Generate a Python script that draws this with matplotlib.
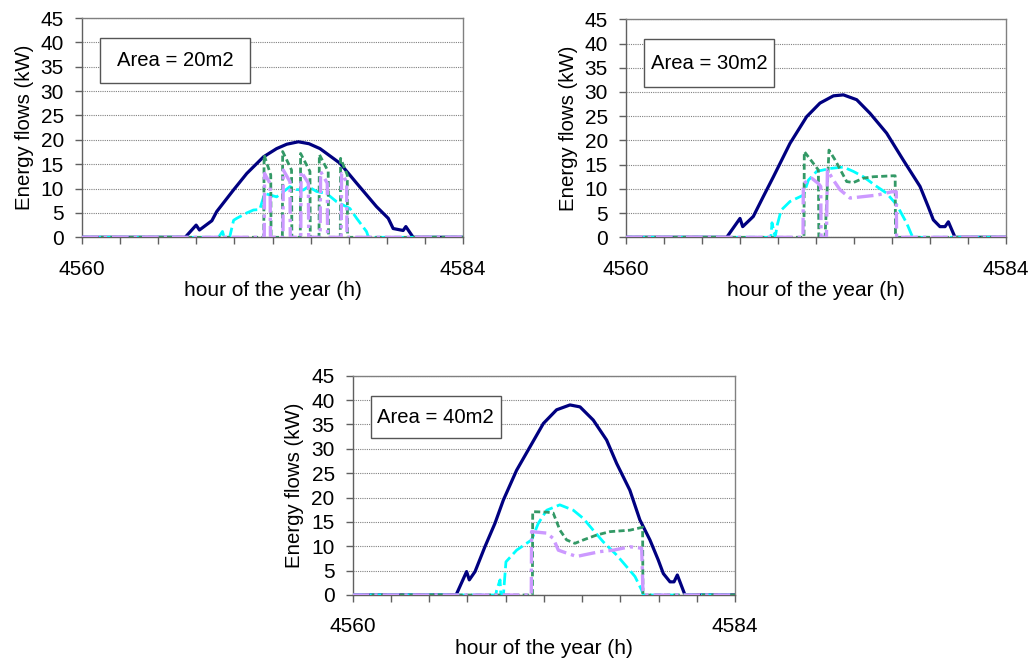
import matplotlib
matplotlib.use("Agg")
import numpy as np
import matplotlib.pyplot as plt
from matplotlib.patches import Rectangle

plt.rcParams['font.family'] = ['Liberation Sans', 'DejaVu Sans']

# ---------------- data ----------------
START_HOUR = 4560
END_HOUR = 4584
X_TICK_LABELS = ['4560', '', '', '', '', '', '', '', '', '', '4584']
Y_TICKS = [0, 5, 10, 15, 20, 25, 30, 35, 40, 45]
AREA_LABELS = ['Area = 20m2', 'Area = 30m2', 'Area = 40m2']
Y_LABEL = 'Energy flows (kW)'
X_LABEL = 'hour of the year (h)'

# Panel 1 (20 m2) -- hours after START_HOUR, values in kW
p1_navy_t = [0, 6.5, 7.19, 7.4, 8.18, 8.49, 9.54, 10.38, 11.43, 12.26, 12.9, 13.63, 14.3, 14.99, 16.25, 17.3, 18.55, 19.29, 19.6, 20.23, 20.4, 20.86, 24]
p1_navy_v = [0, 0, 2.5, 1.5, 3.4, 5.3, 9.7, 13.1, 16.5, 18.2, 19.1, 19.6, 19.2, 18.2, 15.2, 11.1, 6.3, 3.9, 1.8, 1.4, 2.2, 0, 0]
p1_cyan_t = [0, 8.6, 8.85, 8.95, 9.3, 9.55, 9.75, 10.38, 10.8, 11.2, 11.5, 12.26, 13.1, 13.5, 13.94, 14.26, 14.78, 15.4, 16.04, 16.88, 17.3, 17.92, 18.05, 24]
p1_cyan_v = [0, 0, 1.2, 0, 0, 3.5, 3.9, 5.0, 5.6, 5.7, 9.0, 8.3, 10.4, 9.8, 9.7, 10.4, 9.4, 9.0, 7.3, 5.9, 3.9, 1.2, 0, 0]
p1_green_t = [0, 11.45, 11.47, 11.89, 11.91, 12.62, 12.64, 13.2, 13.22, 13.75, 13.77, 14.36, 14.38, 14.93, 14.95, 15.51, 15.53, 16.27, 16.29, 16.71, 16.73, 24]
p1_green_v = [0, 0, 16.9, 12.8, 0, 0, 17.6, 13.8, 0, 0, 17.2, 13.5, 0, 0, 17.0, 13.5, 0, 0, 16.2, 12.8, 0, 0]
p1_lav_t = [0, 11.48, 11.5, 11.85, 11.87, 12.66, 12.68, 13.1, 13.12, 13.78, 13.8, 14.26, 14.28, 15.0, 15.03, 15.45, 15.47, 16.33, 16.35, 16.67, 16.69, 24]
p1_lav_v = [0, 0, 13.1, 11.0, 0, 0, 13.8, 11.4, 0, 0, 13.5, 11.1, 0, 0, 13.5, 11.1, 0, 0, 13.1, 11.4, 0, 0]

# Panel 2 (30 m2)
p2_navy_t = [0, 6.36, 7.2, 7.37, 8.04, 8.67, 9.31, 10.36, 11.41, 12.25, 13.1, 13.73, 14.57, 15.41, 16.46, 17.5, 18.57, 19.09, 19.41, 19.83, 20.15, 20.36, 20.78, 24]
p2_navy_v = [0, 0, 3.9, 2.2, 4.3, 8.4, 12.5, 19.4, 24.9, 27.7, 29.2, 29.4, 28.4, 25.6, 21.5, 16.0, 10.5, 6.3, 3.6, 2.2, 2.2, 3.2, 0, 0]
p2_cyan_t = [0, 9.15, 9.22, 9.42, 9.55, 9.8, 10.36, 11.2, 11.52, 12.04, 12.88, 13.73, 14.36, 14.99, 15.83, 16.46, 17.1, 17.73, 18.04, 18.15, 24]
p2_cyan_v = [0, 0, 3.0, 0, 2.5, 5.6, 7.4, 8.7, 11.8, 13.6, 14.2, 14.5, 13.6, 12.5, 10.5, 9.1, 6.7, 2.9, 0.5, 0, 0]
p2_green_t = [0, 11.24, 11.26, 12.15, 12.18, 12.57, 12.82, 13.2, 13.94, 14.36, 14.99, 15.62, 16.88, 17.0, 17.02, 24]
p2_green_v = [0, 0, 17.7, 13.9, 0, 0, 18.0, 16.0, 11.5, 11.3, 12.2, 12.5, 12.7, 12.7, 0, 0]
p2_lav_t = [0, 11.18, 11.2, 11.73, 12.15, 12.3, 12.32, 12.66, 12.72, 13.1, 13.52, 14.15, 14.99, 15.83, 16.78, 17.07, 17.09, 24]
p2_lav_v = [0, 0, 11.1, 12.2, 11.1, 10.5, 0, 0, 13.9, 11.8, 9.8, 8.1, 8.4, 8.7, 9.4, 9.4, 0, 0]

# Panel 3 (40 m2)
p3_navy_t = [0, 6.49, 7.15, 7.32, 7.68, 8.3, 8.93, 9.46, 10.29, 11.13, 11.97, 12.8, 13.64, 14.27, 15.1, 15.94, 16.57, 17.4, 18.03, 18.66, 19.18, 19.5, 19.92, 20.17, 20.38, 20.86, 24]
p3_navy_v = [0, 0, 4.8, 3.1, 4.8, 9.9, 14.7, 19.5, 25.6, 30.4, 35.2, 38.0, 39.0, 38.6, 35.9, 31.8, 27.0, 21.5, 15.4, 11.3, 7.2, 4.4, 2.7, 2.7, 4.1, 0, 0]
p3_cyan_t = [0, 8.98, 9.04, 9.25, 9.3, 9.46, 9.62, 10.29, 11.23, 11.65, 12.18, 13.0, 13.85, 14.48, 15.1, 15.73, 16.57, 17.2, 17.72, 18.14, 18.25, 24]
p3_cyan_v = [0, 0, 1.0, 3.1, 0, 0, 6.8, 9.2, 11.3, 14.7, 17.4, 18.5, 17.4, 15.7, 13.3, 10.9, 8.2, 5.8, 3.8, 1.0, 0, 0]
p3_green_t = [0, 11.28, 11.3, 12.2, 12.59, 13.01, 13.43, 13.95, 14.48, 15.31, 16.15, 17.4, 18.2, 18.22, 24]
p3_green_v = [0, 0, 17.1, 17.0, 16.8, 13.3, 11.3, 10.6, 11.3, 12.3, 13.0, 13.3, 13.9, 0, 0]
p3_lav_t = [0, 11.21, 11.23, 12.18, 12.59, 12.91, 13.43, 14.06, 14.48, 15.52, 16.36, 17.4, 18.14, 18.22, 18.3, 24]
p3_lav_v = [0, 0, 13.0, 12.7, 11.6, 9.2, 8.6, 7.9, 8.2, 8.9, 9.2, 9.9, 9.6, 1.0, 0, 0]

# ---------------- styles ----------------
NAVY = '#000080'
CYAN = '#00FFFF'
GREEN = '#339966'
LAV = '#CC99FF'

FIG_W, FIG_H = 1033, 659
fig = plt.figure(figsize=(FIG_W / 100, FIG_H / 100), dpi=100)

# axes rects in pixels (left, top, right, bottom)
rects_px = [(82, 18, 463, 237.3), (626, 19.3, 1006, 237.3), (352.7, 375.7, 735, 595)]
boxes = [(0.047, 0.703, 0.394, 0.204), (0.047, 0.689, 0.342, 0.221), (0.048, 0.716, 0.339, 0.191)]

panels = [
    (p1_navy_t, p1_navy_v, p1_cyan_t, p1_cyan_v, p1_green_t, p1_green_v, p1_lav_t, p1_lav_v),
    (p2_navy_t, p2_navy_v, p2_cyan_t, p2_cyan_v, p2_green_t, p2_green_v, p2_lav_t, p2_lav_v),
    (p3_navy_t, p3_navy_v, p3_cyan_t, p3_cyan_v, p3_green_t, p3_green_v, p3_lav_t, p3_lav_v),
]

FS = 15
xticks = np.linspace(START_HOUR, END_HOUR, len(X_TICK_LABELS))

for (l, t, r, b), box, label, data in zip(rects_px, boxes, AREA_LABELS, panels):
    ax = fig.add_axes([l / FIG_W, 1 - b / FIG_H, (r - l) / FIG_W, (b - t) / FIG_H])
    nt, nv, ct, cv, gt, gv, lt, lv = data
    ax.plot(START_HOUR + np.array(nt), nv, color=NAVY, lw=2.3, solid_joinstyle='round', zorder=3)
    ax.plot(START_HOUR + np.array(ct), cv, color=CYAN, lw=2.0, dashes=(4.5, 1.6), zorder=4)
    ax.plot(START_HOUR + np.array(gt), gv, color=GREEN, lw=2.0, dashes=(2.2, 1.2), zorder=5)
    ax.plot(START_HOUR + np.array(lt), lv, color=LAV, lw=2.4, dashes=(5, 1.5, 1, 1.5), zorder=6)

    ax.set_xlim(START_HOUR, END_HOUR)
    ax.set_ylim(0, 45)
    ax.set_yticks(Y_TICKS)
    ax.set_xticks(xticks)
    ax.set_xticklabels(X_TICK_LABELS)
    ax.yaxis.grid(True, color='#808080', lw=0.8, linestyle=(0, (1, 1)))
    ax.set_axisbelow(True)
    for s in ax.spines.values():
        s.set_color('#808080')
        s.set_linewidth(1.0)
    ax.spines['left'].set_color('#606060')
    ax.spines['bottom'].set_color('#606060')
    ax.tick_params(axis='x', direction='out', length=5, width=1, color='#606060', pad=11, labelsize=FS)
    ax.tick_params(axis='y', direction='out', length=5, width=1, color='#606060', pad=8, labelsize=FS)
    ax.set_ylabel(Y_LABEL, fontsize=14.7, labelpad=5)
    ax.set_xlabel(X_LABEL, fontsize=FS, labelpad=2)

    bx, by, bw, bh = box
    ax.add_patch(Rectangle((bx, by), bw, bh, transform=ax.transAxes, facecolor='white',
                           edgecolor='#555555', lw=1.0, zorder=10))
    ax.text(bx + bw / 2, by + bh / 2, label, transform=ax.transAxes, ha='center', va='center',
            fontsize=14.6, zorder=11)

fig.savefig('out.png', dpi=100)
